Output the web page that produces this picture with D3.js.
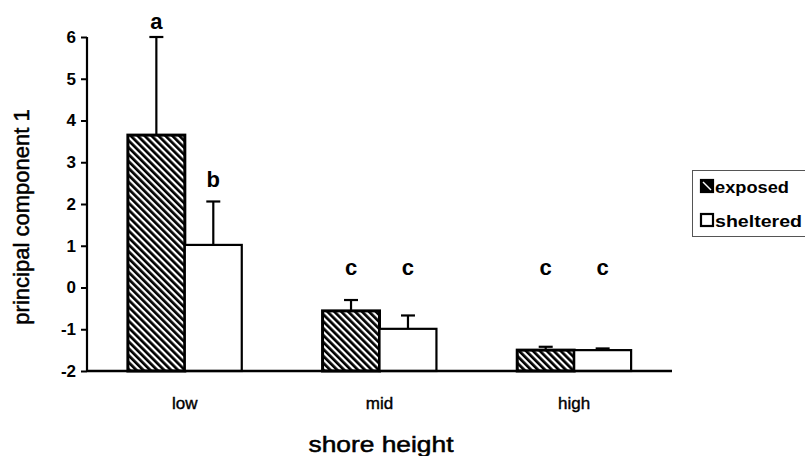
<!DOCTYPE html>
<html>
<head>
<meta charset="utf-8">
<script src="https://cdn.jsdelivr.net/npm/d3@7/dist/d3.min.js"></script>
<style>
  html, body { margin: 0; padding: 0; background: #fff; }
  svg { display: block; font-family: "Liberation Sans", Arial, sans-serif; }
</style>
</head>
<body>
<svg id="chart" width="805" height="456"></svg>
<script>
// Shore heights and exposure treatments
const heights = ["low", "mid", "high"];
const exposures = ["exposed", "sheltered"];

// Mean PC1 scores, per height, for exposed and sheltered shores
const exposedMean = [3.65, -0.56, -1.5];
const shelteredMean = [1.02, -0.99, -1.5];

// Upper error (mean + SE) for each bar
const exposedUpper = [6.0, -0.3, -1.42];
const shelteredUpper = [2.06, -0.67, -1.46];

// Significance letters and the level (in PC1 units) at which they sit
const exposedLetters = ["a", "c", "c"];
const shelteredLetters = ["b", "c", "c"];
const exposedLetterLevel = [6.2, 0.3, 0.3];
const shelteredLetterLevel = [2.4, 0.3, 0.3];

const yTicks = [-2, -1, 0, 1, 2, 3, 4, 5, 6];

const svg = d3.select("#chart");

const x0 = d3.scaleBand().domain(heights).range([87, 672]).paddingInner(0.415).paddingOuter(0.21);
const x1 = d3.scaleBand().domain(exposures).range([0, x0.bandwidth()]).padding(0);
const y = d3.scaleLinear().domain([-2, 6]).range([371, 37]);

// Diagonal hatching for exposed shores
const defs = svg.append("defs");
const pat = defs.append("pattern")
  .attr("id", "hatch")
  .attr("patternUnits", "userSpaceOnUse")
  .attr("width", 4.9).attr("height", 10)
  .attr("patternTransform", "rotate(-45)");
pat.append("rect").attr("width", 4.9).attr("height", 10).attr("fill", "#fff");
pat.append("rect").attr("width", 2.7).attr("height", 10).attr("fill", "#000");

const rows = heights.map((h, i) => [
  { h, key: "exposed", mean: exposedMean[i], upper: exposedUpper[i], letter: exposedLetters[i], level: exposedLetterLevel[i] },
  { h, key: "sheltered", mean: shelteredMean[i], upper: shelteredUpper[i], letter: shelteredLetters[i], level: shelteredLetterLevel[i] }
]).flat();

const fillFor = k => k === "exposed" ? "url(#hatch)" : "#fff";

// Bars drawn from the axis floor (-2)
svg.append("g").selectAll("rect")
  .data(rows).join("rect")
  .attr("x", d => x0(d.h) + x1(d.key))
  .attr("width", x1.bandwidth())
  .attr("y", d => y(d.mean))
  .attr("height", d => y(-2) - y(d.mean))
  .attr("fill", d => fillFor(d.key))
  .attr("stroke", "#000")
  .attr("stroke-width", d => d.key === "exposed" ? 3 : 2.2);

// Upper error bars
const eb = svg.append("g").attr("stroke", "#000").attr("stroke-width", 2.2);
rows.forEach(d => {
  const cx = x0(d.h) + x1(d.key) + x1.bandwidth() / 2;
  eb.append("line").attr("x1", cx).attr("x2", cx).attr("y1", y(d.mean)).attr("y2", y(d.upper));
  eb.append("line").attr("x1", cx - 7).attr("x2", cx + 7).attr("y1", y(d.upper)).attr("y2", y(d.upper));
});

// Significance letters
svg.append("g").selectAll("text")
  .data(rows).join("text")
  .attr("x", d => x0(d.h) + x1(d.key) + x1.bandwidth() / 2)
  .attr("y", d => y(d.level))
  .attr("text-anchor", "middle")
  .attr("font-size", 22)
  .attr("font-weight", "bold")
  .text(d => d.letter);

// Y axis
const yAxis = svg.append("g")
  .attr("transform", "translate(87,0)")
  .call(d3.axisLeft(y).tickValues(yTicks).tickSize(6).tickPadding(5).tickFormat(d => String(d)));
yAxis.select(".domain").attr("stroke-width", 2.2).attr("d", `M0,${y(6)}V${y(-2)}`);
yAxis.selectAll(".tick line").attr("stroke-width", 2);
yAxis.selectAll(".tick text").attr("font-size", 17).attr("font-weight", "bold").attr("fill", "#000")
  .attr("font-family", "Liberation Sans, Arial, sans-serif");

// X axis (no tick marks)
const xAxis = svg.append("g")
  .attr("transform", `translate(0,${y(-2)})`)
  .call(d3.axisBottom(x0).tickSize(0).tickPadding(26));
xAxis.select(".domain").attr("stroke-width", 2.4).attr("d", "M87,0H672");
xAxis.selectAll(".tick text").attr("font-size", 17).attr("fill", "#000")
  .attr("stroke", "#000").attr("stroke-width", 0.4)
  .attr("font-family", "Liberation Sans, Arial, sans-serif");

// Axis titles
svg.append("text")
  .attr("x", 381).attr("y", 452)
  .attr("text-anchor", "middle")
  .attr("font-size", 22)
  .attr("stroke", "#000").attr("stroke-width", 0.5)
  .attr("textLength", 145).attr("lengthAdjust", "spacingAndGlyphs")
  .text("shore height");

svg.append("text")
  .attr("transform", "translate(29,217) rotate(-90)")
  .attr("text-anchor", "middle")
  .attr("font-size", 22)
  .attr("stroke", "#000").attr("stroke-width", 0.5)
  .text("principal component 1");

// Legend
const lg = svg.append("g");
lg.append("rect").attr("x", 692.5).attr("y", 170.5).attr("width", 130).attr("height", 66)
  .attr("fill", "#fff").attr("stroke", "#555").attr("stroke-width", 1);
exposures.forEach((k, i) => {
  const yy = 180 + i * 34;
  lg.append("rect").attr("x", 701).attr("y", yy).attr("width", 12).attr("height", 12)
    .attr("fill", k === "exposed" ? "#000" : "#fff").attr("stroke", "#000").attr("stroke-width", 2.2);
  if (k === "exposed") {
    lg.append("line").attr("x1", 703).attr("y1", yy + 2).attr("x2", 711).attr("y2", yy + 10)
      .attr("stroke", "#fff").attr("stroke-width", 1.5);
  }
  lg.append("text").attr("x", 715).attr("y", yy + 13)
    .attr("font-size", 17).attr("font-weight", "bold")
    .attr("textLength", k === "exposed" ? 74 : 87).attr("lengthAdjust", "spacingAndGlyphs")
    .text(k);
});
</script>
</body>
</html>
